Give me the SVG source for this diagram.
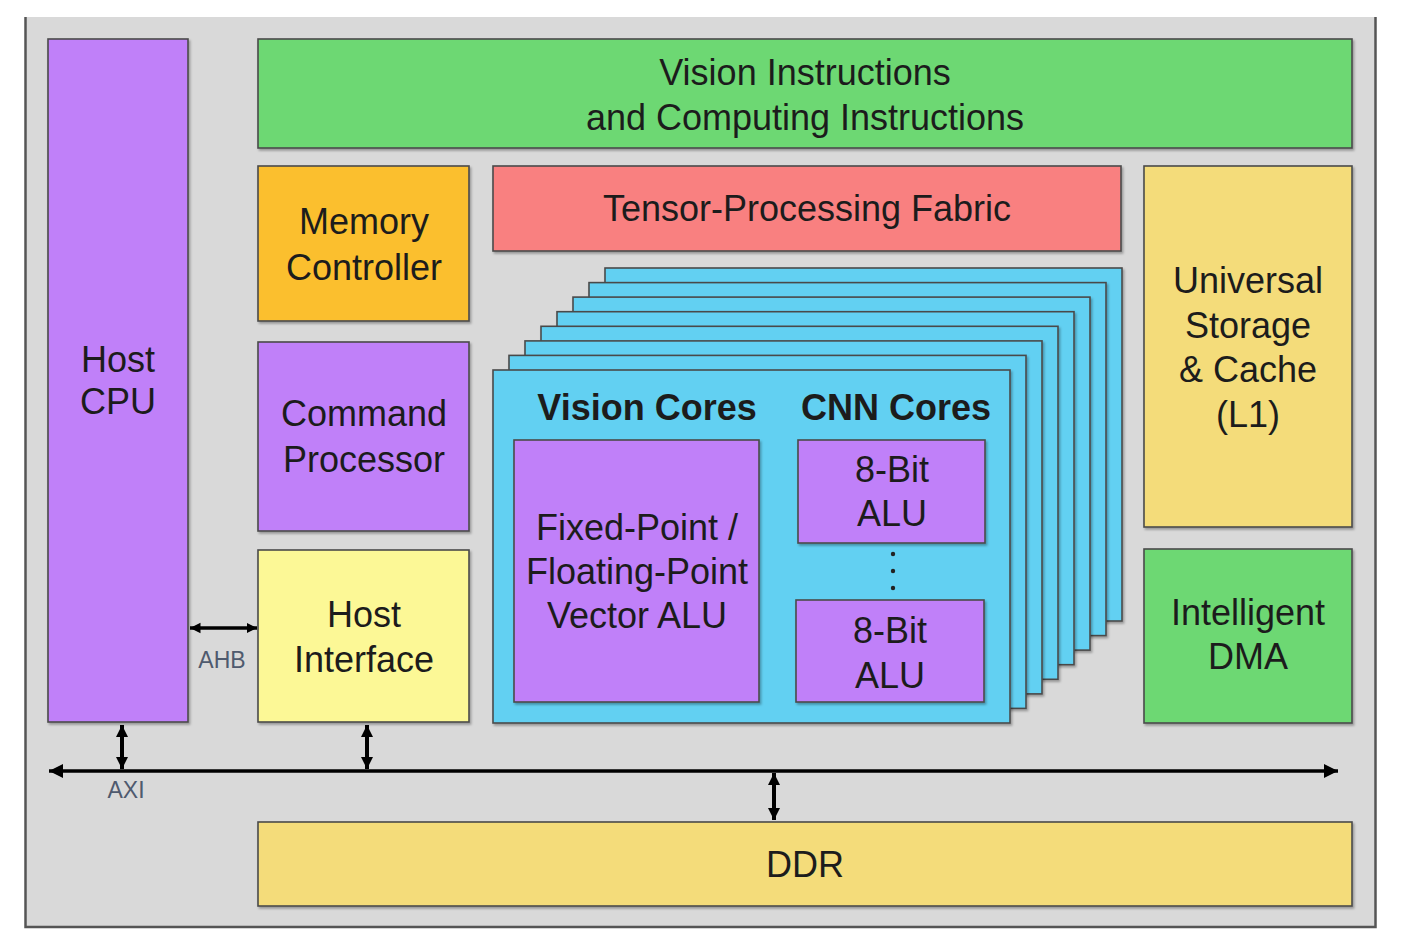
<svg xmlns="http://www.w3.org/2000/svg" width="1402" height="952" viewBox="0 0 1402 952">
<defs>
<filter id="sh" x="-5%" y="-5%" width="110%" height="110%">
<feDropShadow dx="1.5" dy="2" stdDeviation="1.2" flood-color="#000" flood-opacity="0.3"/>
</filter>
<marker id="ah" viewBox="0 0 10 10" refX="10" refY="5" markerWidth="4.5" markerHeight="4" orient="auto-start-reverse" markerUnits="strokeWidth">
<path d="M0,0 L10,5 L0,10 z" fill="#000"/>
</marker>
<marker id="ahs" viewBox="0 0 10 10" refX="10" refY="5" markerWidth="3" markerHeight="3.5" orient="auto-start-reverse" markerUnits="strokeWidth">
<path d="M0,0 L10,5 L0,10 z" fill="#000"/>
</marker>
</defs>
<style>
.b{stroke:#4a4a4a;stroke-width:1.6;filter:url(#sh)}
.t{font-family:"Liberation Sans",Arial,sans-serif;font-size:36px;fill:#1c1c1c;text-anchor:middle}
.bd{font-weight:bold}
.sm{font-family:"Liberation Sans",Arial,sans-serif;font-size:23px;fill:#4f5a6e;text-anchor:middle}
.purple{fill:#C080F9}
.green{fill:#6DD873}
.orange{fill:#FBBF2E}
.red{fill:#F98080}
.gold{fill:#F4DC7A}
.lemon{fill:#FCF896}
.blue{fill:#62D0F2}
.c{stroke:#000;fill:none}
</style>
<rect width="1402" height="952" fill="#fff"/>
<g id="panel">
<rect x="25" y="17" width="1351" height="911" fill="#D9D9D9"/>
<path d="M25.5,17 V927 H1375.5 V17" fill="none" stroke="#555" stroke-width="2.5"/>
</g>
<g id="host-cpu">
<rect class="b purple" x="48" y="39" width="140" height="683"/>
<text class="t" x="118" y="372">Host</text>
<text class="t" x="118" y="414">CPU</text>
</g>
<g id="vision-instructions">
<rect class="b green" x="258" y="39" width="1094" height="109"/>
<text class="t" x="805" y="85">Vision Instructions</text>
<text class="t" x="805" y="130">and Computing Instructions</text>
</g>
<g id="memory-controller">
<rect class="b orange" x="258" y="166" width="211" height="155"/>
<text class="t" x="364" y="234">Memory</text>
<text class="t" x="364" y="280">Controller</text>
</g>
<g id="tensor-fabric">
<rect class="b red" x="493" y="166" width="628" height="85"/>
<text class="t" x="807" y="221">Tensor-Processing Fabric</text>
</g>
<g id="universal-storage">
<rect class="b gold" x="1144" y="166" width="208" height="361"/>
<text class="t" x="1248" y="293">Universal</text>
<text class="t" x="1248" y="338">Storage</text>
<text class="t" x="1248" y="382">&amp; Cache</text>
<text class="t" x="1248" y="427">(L1)</text>
</g>
<g id="command-processor">
<rect class="b purple" x="258" y="342" width="211" height="189"/>
<text class="t" x="364" y="426">Command</text>
<text class="t" x="364" y="472">Processor</text>
</g>
<g id="host-interface">
<rect class="b lemon" x="258" y="550" width="211" height="172"/>
<text class="t" x="364" y="627">Host</text>
<text class="t" x="364" y="672">Interface</text>
</g>
<g id="intelligent-dma">
<rect class="b green" x="1144" y="549" width="208" height="174"/>
<text class="t" x="1248" y="625">Intelligent</text>
<text class="t" x="1248" y="669">DMA</text>
</g>
<g id="ddr">
<rect class="b gold" x="258" y="822" width="1094" height="84"/>
<text class="t" x="805" y="877">DDR</text>
</g>
<g id="core-stack">
<rect class="b blue" x="605" y="268" width="517" height="353"/>
<rect class="b blue" x="589" y="282.6" width="517" height="353"/>
<rect class="b blue" x="573" y="297.1" width="517" height="353"/>
<rect class="b blue" x="557" y="311.7" width="517" height="353"/>
<rect class="b blue" x="541" y="326.3" width="517" height="353"/>
<rect class="b blue" x="525" y="340.9" width="517" height="353"/>
<rect class="b blue" x="509" y="355.4" width="517" height="353"/>
<rect class="b blue" x="493" y="370" width="517" height="353"/>
</g>
<g id="vision-cores">
<text class="t bd" x="647" y="420">Vision Cores</text>
<rect class="b purple" x="514" y="440" width="245" height="262"/>
<text class="t" x="637" y="540">Fixed-Point /</text>
<text class="t" x="637" y="584">Floating-Point</text>
<text class="t" x="637" y="628">Vector ALU</text>
</g>
<g id="cnn-cores">
<text class="t bd" x="896" y="420">CNN Cores</text>
<rect class="b purple" x="798" y="440" width="187" height="103"/>
<text class="t" x="892" y="482">8-Bit</text>
<text class="t" x="892" y="526">ALU</text>
<circle cx="893" cy="554" r="2.2" fill="#222"/>
<circle cx="893" cy="571" r="2.2" fill="#222"/>
<circle cx="893" cy="588" r="2.2" fill="#222"/>
<rect class="b purple" x="796" y="600" width="188" height="102"/>
<text class="t" x="890" y="643">8-Bit</text>
<text class="t" x="890" y="688">ALU</text>
</g>
<g id="connectors">
<line class="c" x1="49" y1="771" x2="1338" y2="771" stroke-width="3.5" marker-start="url(#ah)" marker-end="url(#ah)"/>
<line class="c" x1="122" y1="725" x2="122" y2="769" stroke-width="4" marker-start="url(#ahs)" marker-end="url(#ahs)"/>
<line class="c" x1="367" y1="725" x2="367" y2="769" stroke-width="4" marker-start="url(#ahs)" marker-end="url(#ahs)"/>
<line class="c" x1="774" y1="773" x2="774" y2="820" stroke-width="4" marker-start="url(#ahs)" marker-end="url(#ahs)"/>
<line class="c" x1="190" y1="628" x2="257" y2="628" stroke-width="3.5" marker-start="url(#ahs)" marker-end="url(#ahs)"/>
<text class="sm" x="222" y="668">AHB</text>
<text class="sm" x="126" y="798">AXI</text>
</g>
</svg>
